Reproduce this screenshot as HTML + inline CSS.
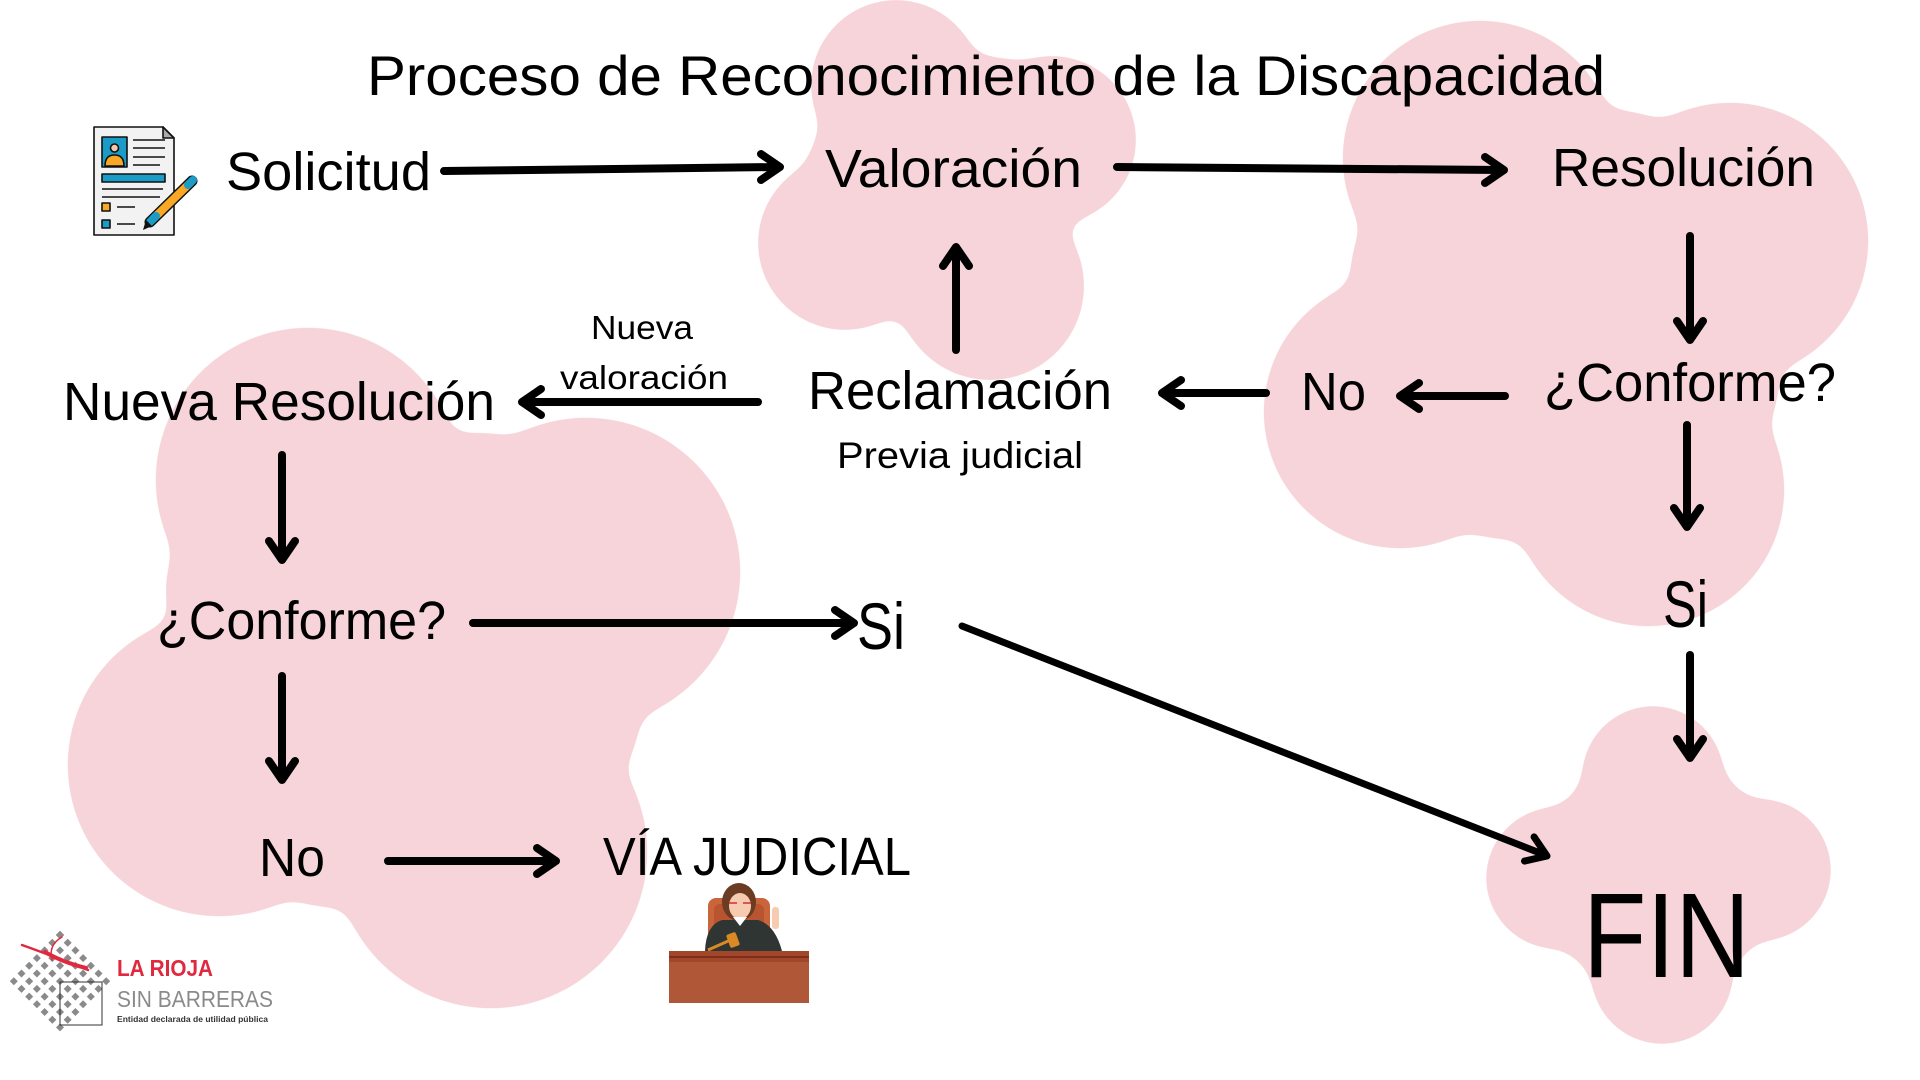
<!DOCTYPE html>
<html>
<head>
<meta charset="utf-8">
<style>
html,body{margin:0;padding:0;background:#fff;}
svg{display:block;}
text{font-family:"Liberation Sans","DejaVu Sans",sans-serif;fill:#000;}
</style>
</head>
<body>
<svg width="1920" height="1080" viewBox="0 0 1920 1080" xmlns="http://www.w3.org/2000/svg">
<defs>
<filter id="goo" x="0" y="0" width="1920" height="1080" filterUnits="userSpaceOnUse" color-interpolation-filters="sRGB">
<feGaussianBlur in="SourceGraphic" stdDeviation="12" result="b"/>
<feColorMatrix in="b" type="matrix" values="0 0 0 0 0.965  0 0 0 0 0.831  0 0 0 0 0.851  0 0 0 40 -20"/>
</filter>
</defs>
<rect width="1920" height="1080" fill="#fff"/>

<!-- Blobs -->
<g filter="url(#goo)" fill="#000">
  <!-- Blob A (Valoración) -->
  <circle cx="896" cy="85" r="86"/>
  <circle cx="1052" cy="140" r="85"/>
  <circle cx="845" cy="243" r="88"/>
  <circle cx="990" cy="286" r="95"/>
  <circle cx="990" cy="122" r="66"/>
  <circle cx="862" cy="165" r="54"/>
  <polygon points="896,85 1052,140 990,286 845,243"/>
  <!-- Blob B (Resolución) -->
  <circle cx="1480" cy="158" r="138"/>
  <circle cx="1730" cy="241" r="139"/>
  <circle cx="1400" cy="412" r="137"/>
  <circle cx="1648" cy="490" r="137"/>
  <circle cx="1620" cy="190" r="80"/>
  <circle cx="1430" cy="270" r="80"/>
  <circle cx="1510" cy="420" r="120"/>
  <circle cx="1690" cy="380" r="90"/>
  <polygon points="1480,158 1730,241 1648,490 1400,412"/>
  <!-- Blob C (Nueva Resolución) -->
  <circle cx="308" cy="480" r="153"/>
  <circle cx="586" cy="572" r="155"/>
  <circle cx="219" cy="765" r="152"/>
  <circle cx="491" cy="852" r="157"/>
  <circle cx="480" cy="530" r="98"/>
  <circle cx="260" cy="590" r="95"/>
  <circle cx="560" cy="720" r="80"/>
  <circle cx="330" cy="820" r="88"/>
  <polygon points="308,480 586,572 491,852 219,765"/>
  <!-- Blob D (FIN) -->
  <circle cx="1653" cy="777" r="72"/>
  <circle cx="1557" cy="878" r="72"/>
  <circle cx="1760" cy="870" r="72"/>
  <circle cx="1662" cy="973" r="72"/>
  <circle cx="1658" cy="875" r="118"/>
</g>

<!-- Arrows -->
<g stroke="#000" stroke-width="8" fill="none" stroke-linecap="round" stroke-linejoin="round">
  <path d="M444 171 L778 167"/><path d="M761 154 L780 167 L761 180"/>
  <path d="M1117 167 L1502 170"/><path d="M1485 157 L1504 170 L1485 183"/>
  <path d="M1690 236 L1690 338"/><path d="M1677 321 L1690 340 L1703 321"/>
  <path d="M1505 396 L1402 396"/><path d="M1419 383 L1400 396 L1419 409"/>
  <path d="M1266 393 L1164 393"/><path d="M1181 380 L1162 393 L1181 406"/>
  <path d="M956 350 L956 249"/><path d="M943 266 L956 247 L969 266"/>
  <path d="M758 402 L524 402"/><path d="M541 389 L522 402 L541 415"/>
  <path d="M282 455 L282 558"/><path d="M269 541 L282 560 L295 541"/>
  <path d="M473 623 L852 623"/><path d="M835 610 L854 623 L835 636"/>
  <path d="M282 676 L282 778"/><path d="M269 761 L282 780 L295 761"/>
  <path d="M388 861 L554 861"/><path d="M537 848 L556 861 L537 874"/>
  <path d="M1687 425 L1687 525"/><path d="M1674 508 L1687 527 L1700 508"/>
  <path d="M1690 655 L1690 756"/><path d="M1677 739 L1690 758 L1703 739"/>
  <path d="M962 626 L1545 855" stroke-width="7"/><path d="M1524.5 861.1 L1547 856 L1534.1 836.9" stroke-width="7"/>
</g>

<!-- Text -->
<text x="367" y="95" font-size="56" textLength="1238" lengthAdjust="spacingAndGlyphs">Proceso de Reconocimiento de la Discapacidad</text>
<text x="226" y="190" font-size="54" textLength="205" lengthAdjust="spacingAndGlyphs">Solicitud</text>
<text x="825" y="187" font-size="54" textLength="257" lengthAdjust="spacingAndGlyphs">Valoración</text>
<text x="1552" y="186" font-size="54" textLength="263" lengthAdjust="spacingAndGlyphs">Resolución</text>
<text x="1544" y="401" font-size="54" textLength="292" lengthAdjust="spacingAndGlyphs">¿Conforme?</text>
<text x="1301" y="410" font-size="54" textLength="65" lengthAdjust="spacingAndGlyphs">No</text>
<text x="808" y="409" font-size="54" textLength="304" lengthAdjust="spacingAndGlyphs">Reclamación</text>
<text x="837" y="468" font-size="37" textLength="246" lengthAdjust="spacingAndGlyphs">Previa judicial</text>
<text x="591" y="339" font-size="33" textLength="102" lengthAdjust="spacingAndGlyphs">Nueva</text>
<text x="560" y="389" font-size="33" textLength="168" lengthAdjust="spacingAndGlyphs">valoración</text>
<text x="63" y="420" font-size="54" textLength="432" lengthAdjust="spacingAndGlyphs">Nueva Resolución</text>
<text x="157" y="639" font-size="54" textLength="289" lengthAdjust="spacingAndGlyphs">¿Conforme?</text>
<text x="857" y="649" font-size="66" textLength="48" lengthAdjust="spacingAndGlyphs">Si</text>
<text x="259" y="876" font-size="54" textLength="66" lengthAdjust="spacingAndGlyphs">No</text>
<text x="603" y="875" font-size="54" textLength="308" lengthAdjust="spacingAndGlyphs">VÍA JUDICIAL</text>
<text x="1663" y="627" font-size="66" textLength="45" lengthAdjust="spacingAndGlyphs">Si</text>
<text x="1583" y="977" font-size="121" textLength="167" lengthAdjust="spacingAndGlyphs">FIN</text>

<!-- Document icon -->
<g stroke="#111" stroke-width="1.6" stroke-linejoin="round">
  <path d="M94 127 L163 127 L174 138 L174 235 L94 235 Z" fill="#F2F2F2"/>
  <path d="M163 127 L163 138 L174 138 Z" fill="#AAAAAA"/>
  <rect x="102" y="137" width="25" height="30" fill="#1A9CC7"/>
  <path d="M105 166 Q105 155 114.5 155 Q124 155 124 166 Z" fill="#F9A826"/>
  <circle cx="114.5" cy="148" r="4" fill="#F6C6A8"/>
  <path d="M133 140 H165 M133 148 H165 M133 157 H165 M133 165 H160" fill="none"/>
  <rect x="102" y="174" width="63" height="8" fill="#1A9CC7"/>
  <path d="M102 189 H163 M102 197 H160" fill="none"/>
  <rect x="102" y="203" width="8" height="8" fill="#F9A826"/>
  <path d="M117 207 H135" fill="none"/>
  <rect x="102" y="220" width="8" height="8" fill="#1A9CC7"/>
  <path d="M117 224 H135" fill="none"/>
</g>
<g stroke-linecap="round">
  <line x1="192" y1="181" x2="150" y2="222" stroke="#111" stroke-width="11"/>
  <line x1="190" y1="183" x2="153" y2="219" stroke="#F9A826" stroke-width="8"/>
  <line x1="193" y1="180" x2="188" y2="185" stroke="#1A9CC7" stroke-width="8"/>
  <line x1="156" y1="216" x2="150" y2="222" stroke="#1A9CC7" stroke-width="8"/>
  <path d="M146 220 L152 226 L143 230 Z" fill="#111"/>
</g>

<!-- Judge icon -->
<g>
  <rect x="708" y="898" width="62" height="54" rx="8" fill="#C9643B"/>
  <rect x="714" y="904" width="50" height="46" rx="6" fill="#B85530"/>
  <ellipse cx="739" cy="902" rx="17" ry="19" fill="#6B3B22"/>
  <path d="M705 951 Q706 925 722 920 L758 920 Q775 925 782 951 Z" fill="#2F3533"/>
  <ellipse cx="740" cy="906" rx="11" ry="13" fill="#F6CBB0"/>
  <path d="M729 903 H737 M743 903 H751" stroke="#D0303A" stroke-width="1.5"/>
  <path d="M733 917 L740 926 L747 917 Z" fill="#fff"/>
  <rect x="772" y="907" width="7" height="22" rx="3" fill="#F6CBB0"/>
  <line x1="708" y1="950" x2="735" y2="938" stroke="#D98A25" stroke-width="3"/>
  <rect x="728" y="933" width="10" height="14" rx="2" fill="#D98A25" transform="rotate(-20 733 940)"/>
  <rect x="669" y="951" width="140" height="52" fill="#B05737"/>
  <rect x="669" y="951" width="140" height="11" fill="#A2472B"/>
  <rect x="669" y="956" width="140" height="2" fill="#7E2F1A"/>
</g>

<!-- Logo -->
<g fill="#8A8A8A">
  <g transform="translate(60 935)">
    <!-- 7x7 grid of diamonds -->
    <g id="row">
      <rect x="-3" y="-3" width="6" height="6" transform="rotate(45)"/>
    </g>
  </g>
</g>
<g fill="#8A8A8A" id="diamonds"></g>
<g fill="#8A8A8A">
  <path d="M60 931 l4 4 l-4 4 l-4 -4 Z M67.7 938.7 l4 4 l-4 4 l-4 -4 Z M75.4 946.4 l4 4 l-4 4 l-4 -4 Z M83.1 954.1 l4 4 l-4 4 l-4 -4 Z M90.8 961.8 l4 4 l-4 4 l-4 -4 Z M98.5 969.5 l4 4 l-4 4 l-4 -4 Z M106.2 977.2 l4 4 l-4 4 l-4 -4 Z"/>
  <path d="M52.3 938.7 l4 4 l-4 4 l-4 -4 Z M60 946.4 l4 4 l-4 4 l-4 -4 Z M67.7 954.1 l4 4 l-4 4 l-4 -4 Z M75.4 961.8 l4 4 l-4 4 l-4 -4 Z M83.1 969.5 l4 4 l-4 4 l-4 -4 Z M90.8 977.2 l4 4 l-4 4 l-4 -4 Z M98.5 984.9 l4 4 l-4 4 l-4 -4 Z"/>
  <path d="M44.6 946.4 l4 4 l-4 4 l-4 -4 Z M52.3 954.1 l4 4 l-4 4 l-4 -4 Z M60 961.8 l4 4 l-4 4 l-4 -4 Z M67.7 969.5 l4 4 l-4 4 l-4 -4 Z M75.4 977.2 l4 4 l-4 4 l-4 -4 Z M83.1 984.9 l4 4 l-4 4 l-4 -4 Z M90.8 992.6 l4 4 l-4 4 l-4 -4 Z"/>
  <path d="M36.9 954.1 l4 4 l-4 4 l-4 -4 Z M44.6 961.8 l4 4 l-4 4 l-4 -4 Z M52.3 969.5 l4 4 l-4 4 l-4 -4 Z M60 977.2 l4 4 l-4 4 l-4 -4 Z M67.7 984.9 l4 4 l-4 4 l-4 -4 Z M75.4 992.6 l4 4 l-4 4 l-4 -4 Z M83.1 1000.3 l4 4 l-4 4 l-4 -4 Z"/>
  <path d="M29.2 961.8 l4 4 l-4 4 l-4 -4 Z M36.9 969.5 l4 4 l-4 4 l-4 -4 Z M44.6 977.2 l4 4 l-4 4 l-4 -4 Z M52.3 984.9 l4 4 l-4 4 l-4 -4 Z M60 992.6 l4 4 l-4 4 l-4 -4 Z M67.7 1000.3 l4 4 l-4 4 l-4 -4 Z M75.4 1008 l4 4 l-4 4 l-4 -4 Z"/>
  <path d="M21.5 969.5 l4 4 l-4 4 l-4 -4 Z M29.2 977.2 l4 4 l-4 4 l-4 -4 Z M36.9 984.9 l4 4 l-4 4 l-4 -4 Z M44.6 992.6 l4 4 l-4 4 l-4 -4 Z M52.3 1000.3 l4 4 l-4 4 l-4 -4 Z M60 1008 l4 4 l-4 4 l-4 -4 Z M67.7 1015.7 l4 4 l-4 4 l-4 -4 Z"/>
  <path d="M13.8 977.2 l4 4 l-4 4 l-4 -4 Z M21.5 984.9 l4 4 l-4 4 l-4 -4 Z M29.2 992.6 l4 4 l-4 4 l-4 -4 Z M36.9 1000.3 l4 4 l-4 4 l-4 -4 Z M44.6 1008 l4 4 l-4 4 l-4 -4 Z M52.3 1015.7 l4 4 l-4 4 l-4 -4 Z M60 1023.4 l4 4 l-4 4 l-4 -4 Z"/>
</g>
<rect x="60" y="982" width="42" height="43" fill="none" stroke="#333" stroke-width="1"/>
<g stroke="#E0293F" fill="none" stroke-linecap="round">
  <path d="M22 945 Q50 955 88 970" stroke-width="2.5"/>
  <path d="M45 952 Q62 962 86 968" stroke-width="4"/>
  <path d="M62 937 Q48 945 52 960" stroke-width="1.5"/>
</g>
<text x="117" y="976" font-size="23" font-weight="bold" textLength="96" lengthAdjust="spacingAndGlyphs" style="fill:#E0293F">LA RIOJA</text>
<text x="117" y="1007" font-size="23" textLength="156" lengthAdjust="spacingAndGlyphs" style="fill:#8A8A8A">SIN BARRERAS</text>
<text x="117" y="1022" font-size="8.5" font-weight="bold" textLength="151" lengthAdjust="spacingAndGlyphs" style="fill:#333">Entidad declarada de utilidad pública</text>
</svg>
</body>
</html>
